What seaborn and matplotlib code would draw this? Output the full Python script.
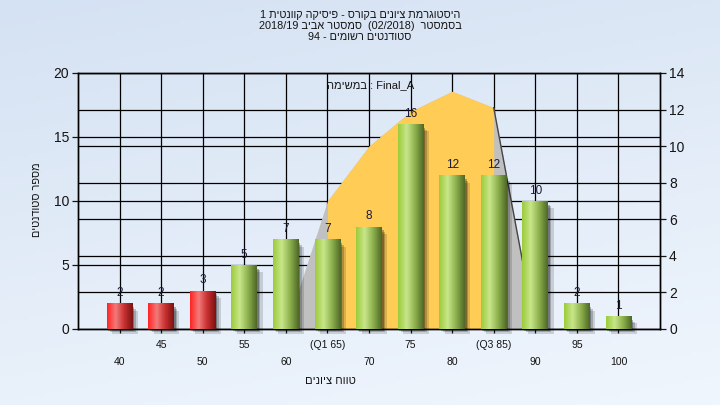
import re
import numpy as np
import matplotlib
matplotlib.use("Agg")
import matplotlib.pyplot as plt
from matplotlib.colors import LinearSegmentedColormap
from matplotlib.patches import Rectangle
import seaborn as sns

# data
grades = ["40", "45", "50", "55", "60", "65", "70", "75", "80", "85", "90", "95", "100"]
tick_labels = ["40", "45", "50", "55", "60", "(Q1 65)", "70", "75", "80", "(Q3 85)", "90", "95", "100"]
counts = [2, 2, 3, 5, 7, 7, 8, 16, 12, 12, 10, 2, 1]
n_fail = 3  # first three bins drawn red

# distribution curve (right axis units)
curve_idx = [4, 5, 6, 7, 8, 9, 10]
curve_val = [0, 7.0, 10.0, 11.9, 13.0, 12.1, 0]
iqr_idx = [5, 6, 7, 8, 9]
iqr_val = [7.0, 10.0, 11.9, 13.0, 12.1]

title_he = ["היסטוגרמת ציונים בקורס - פיסיקה קוונטית 1",
            "בסמסטר  (02/2018)  סמסטר אביב 2018/19",
            "סטודנטים רשומים - 94"]
xlabel_he = "טווח ציונים"
ylabel_he = "מספר סטודנטים"
task_he = "במשימה"
task_name = "Final_A"


def visual(s):
    # matplotlib has no bidi: put RTL text in visual order
    r = s[::-1]
    r = re.sub(r"[0-9A-Za-z_/.]+", lambda m: m.group(0)[::-1], r)
    return r.translate(str.maketrans("()", ")("))


plt.rcParams['font.family'] = ['Liberation Sans', 'DejaVu Sans']
txt = '#141414'

fig = plt.figure(figsize=(7.2, 4.05), dpi=100)

# background gradient
bg = fig.add_axes([0, 0, 1, 1], zorder=-10)
yy, xx = np.mgrid[0:1:100j, 0:1:100j]
t = np.clip(0.75 * yy + 0.25 * xx, 0, 1)
c0 = np.array([213, 226, 243]) / 255
c1 = np.array([240, 246, 253]) / 255
img = c0[None, None, :] * (1 - t[..., None]) + c1[None, None, :] * t[..., None]
bg.imshow(img, extent=[0, 1, 0, 1], aspect='auto', origin='upper')
bg.axis('off')

rect = [78 / 720, 76 / 405, 582 / 720, 256 / 405]
ax = fig.add_axes(rect)
ax2 = ax.twinx()
ax.set_zorder(ax2.get_zorder() + 1)
ax.patch.set_visible(False)
ax2.set_facecolor('#b4b4b4')

# bars through seaborn
sns.barplot(x=grades, y=counts, order=grades, color='white', width=0.62,
            ax=ax, zorder=3, linewidth=0)

red = LinearSegmentedColormap.from_list('r', ['#ff2424', '#f37a7a', '#c83030', '#7c1212'])
green = LinearSegmentedColormap.from_list('g', ['#9ccc3c', '#c8e68a', '#8cb04c', '#4e6828'])
grad = np.linspace(0, 1, 64).reshape(1, -1)

for i, p in enumerate(ax.patches):
    x0, w, h = p.get_x(), p.get_width(), p.get_height()
    for dx, dy, a in [(0.04, -0.13, 0.28), (0.08, -0.27, 0.2), (0.13, -0.42, 0.14)]:
        ax.add_patch(Rectangle((x0 + dx, dy), w, h - 0.15, facecolor='black', alpha=a,
                               lw=0, zorder=2, clip_on=False))
    im = ax.imshow(grad, cmap=red if i < n_fail else green, extent=[x0, x0 + w, 0, h],
                   aspect='auto', zorder=3, interpolation='bilinear')
    im.set_clip_path(p)
    p.set_facecolor('none')
    ax.annotate(str(counts[i]), (x0 + w / 2, h), xytext=(0, 3), textcoords='offset points',
                ha='center', va='bottom', fontsize=8.5, color='#1a1a3a', zorder=5)

ax.set_xlim(-1, 13)
ax.set_ylim(0, 20)
ax2.set_ylim(0, 14)
ax.set_yticks([0, 5, 10, 15, 20])
ax2.set_yticks(range(0, 15, 2))
ax.set_xticks(range(len(grades)))
ax.set_xticklabels(tick_labels)
ax.set_xlabel('')
ax.set_ylabel('')

# grid and areas in the back axis
ax2.set_axisbelow(True)
ax2.grid(axis='y', color='black', lw=0.9)
for v in [5, 10, 15]:
    ax2.axhline(v * 14 / 20, color='black', lw=0.9, zorder=0.6)
for i in range(len(grades)):
    ax2.axvline(i, color='black', lw=0.9, zorder=0.6)
ax2.fill_between(curve_idx, curve_val, 0, color='#c0c0c0', lw=0, zorder=1)
ax2.fill_between(iqr_idx, iqr_val, 0, color='#ffcc55', lw=0, zorder=1.1)
ax2.plot(curve_idx[-2:], curve_val[-2:], color='#454545', lw=1, zorder=1.2)

for a in (ax, ax2):
    for s in a.spines.values():
        s.set_color('black')
        s.set_linewidth(1)

ax.tick_params(axis='y', length=4.5, width=0.9, pad=2, labelsize=10, colors=txt)
ax2.tick_params(axis='y', length=4.5, width=0.9, pad=2, labelsize=10, colors=txt)
ax.tick_params(axis='x', length=3, width=0.9, labelsize=7.5, colors=txt)
for i, tk in enumerate(ax.xaxis.get_major_ticks()):
    tk.set_pad(5 if i % 2 == 1 else 17)

ax.text(0.428, 0.953, visual(task_he) + " : " + task_name, transform=ax.transAxes,
        ha='left', va='center', fontsize=8, color=txt, zorder=6)

fig.text(0.5, 1 - 10 / 405, "\n".join(visual(s) for s in title_he), ha='center', va='top',
         fontsize=7.8, color=txt, linespacing=1.15)
fig.text(330 / 720, 1 - 381 / 405, visual(xlabel_he), ha='center', va='center',
         fontsize=8, color=txt)
fig.text(37 / 720, 1 - 200 / 405, visual(ylabel_he), ha='center', va='center',
         rotation=90, fontsize=7.8, color=txt)

fig.savefig('out.png', dpi=100)
